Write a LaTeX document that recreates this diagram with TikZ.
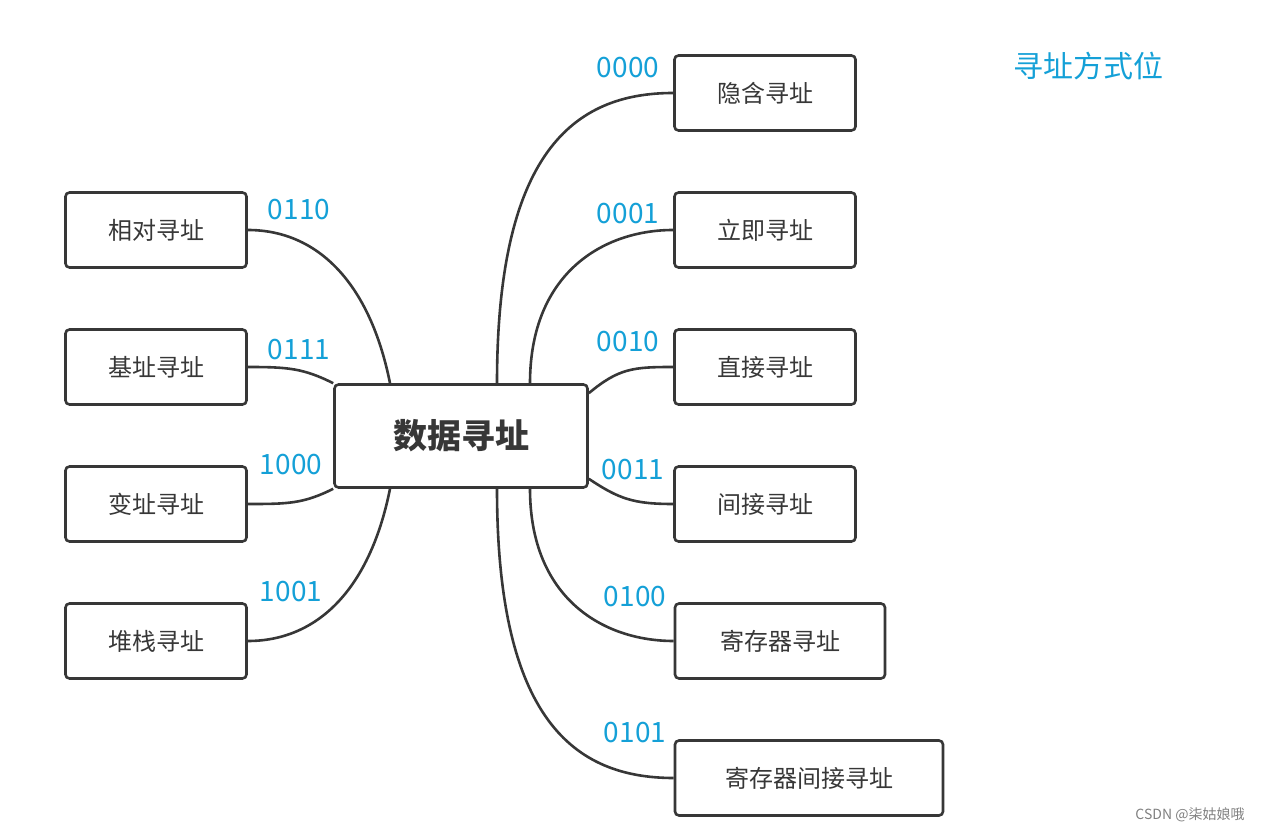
\documentclass[tikz,border=0pt]{standalone}
\usepackage{fontspec}
\setmainfont{Noto Sans CJK SC}
\usetikzlibrary{calc}
\definecolor{cy}{RGB}{20,160,215}
\definecolor{dk}{RGB}{55,55,55}
\tikzset{
  box/.style={draw=dk,line width=2.6pt,rounded corners=4pt,minimum height=75pt,inner sep=0pt,font=\fontsize{24}{26}\selectfont,text=dk},
  lk/.style={draw=dk,line width=2.6pt},
  code/.style={text=cy,font=\fontsize{28}{30}\selectfont,inner sep=0pt}
}
\begin{document}
\begin{tikzpicture}[x=1pt,y=-1pt]
\useasboundingbox (0,0) rectangle (1275,834);
\node[box,minimum width=253pt,minimum height=103pt,font=\fontsize{34}{36}\selectfont\bfseries] (c) at (461,436) {数据寻址};
\node[box,minimum width=181pt] (r1) at (765,93) {隐含寻址};
\node[box,minimum width=181pt] (r2) at (765,230) {立即寻址};
\node[box,minimum width=181pt] (r3) at (765,367) {直接寻址};
\node[box,minimum width=181pt] (r4) at (765,504) {间接寻址};
\node[box,minimum width=210pt] (r5) at (780,641) {寄存器寻址};
\node[box,minimum width=268pt] (r6) at (809,778) {寄存器间接寻址};
\node[box,minimum width=181pt] (l1) at (156,230) {相对寻址};
\node[box,minimum width=181pt] (l2) at (156,367) {基址寻址};
\node[box,minimum width=181pt] (l3) at (156,504) {变址寻址};
\node[box,minimum width=181pt] (l4) at (156,641) {堆栈寻址};
\coordinate (t1) at ($(c.north)+(36,0)$);
\coordinate (t2) at ($(c.north)+(69,0)$);
\coordinate (t3) at ($(c.north)+(-71,0)$);
\coordinate (b1) at ($(c.south)+(36,0)$);
\coordinate (b2) at ($(c.south)+(69,0)$);
\coordinate (b3) at ($(c.south)+(-71,0)$);
\coordinate (e1) at ($(c.north east)+(0,10)$);
\coordinate (e2) at ($(c.south east)+(0,-10)$);
\coordinate (w1) at ($(c.north west)+(0,0)$);
\coordinate (w2) at ($(c.south west)+(0,0)$);
\draw[lk] (t1) .. controls ($(t1)+(0,-230)$) and ($(r1.west)+(-100,0)$) .. (r1.west);
\draw[lk] (t2) .. controls ($(t2)+(0,-110)$) and ($(r2.west)+(-70,0)$) .. (r2.west);
\draw[lk] (e1) .. controls ($(e1)+(30,-25)$) and ($(r3.west)+(-40,0)$) .. (r3.west);
\draw[lk] (e2) .. controls ($(e2)+(30,20)$) and ($(r4.west)+(-40,0)$) .. (r4.west);
\draw[lk] (b2) .. controls ($(b2)+(0,110)$) and ($(r5.west)+(-70,0)$) .. (r5.west);
\draw[lk] (b1) .. controls ($(b1)+(0,230)$) and ($(r6.west)+(-100,0)$) .. (r6.west);
\draw[lk] (t3) .. controls ($(t3)+(-20,-100)$) and ($(l1.east)+(70,0)$) .. (l1.east);
\draw[lk] (w1) .. controls ($(w1)+(-30,-15)$) and ($(l2.east)+(40,0)$) .. (l2.east);
\draw[lk] (w2) .. controls ($(w2)+(-30,15)$) and ($(l3.east)+(40,0)$) .. (l3.east);
\draw[lk] (b3) .. controls ($(b3)+(-20,100)$) and ($(l4.east)+(70,0)$) .. (l4.east);
\node[code] (n1) at (628,68) {0000};
\node[code] (n2) at (628,214) {0001};
\node[code] (n3) at (628,342) {0010};
\node[code] (n4) at (633,470) {0011};
\node[code] (n5) at (635,597) {0100};
\node[code] (n6) at (635,733) {0101};
\node[code] (m1) at (299,210) {0110};
\node[code] (m2) at (299,350) {0111};
\node[code] (m3) at (291,465) {1000};
\node[code] (m4) at (291,592) {1001};
\node[text=cy,font=\fontsize{30}{32}\selectfont,inner sep=0pt] (title) at (1088,66) {寻址方式位};
\node[text=gray,font=\fontsize{14}{16}\selectfont,inner sep=0pt] (wm) at (1190,815) {CSDN @柒姑娘哦};
\end{tikzpicture}
\end{document}
